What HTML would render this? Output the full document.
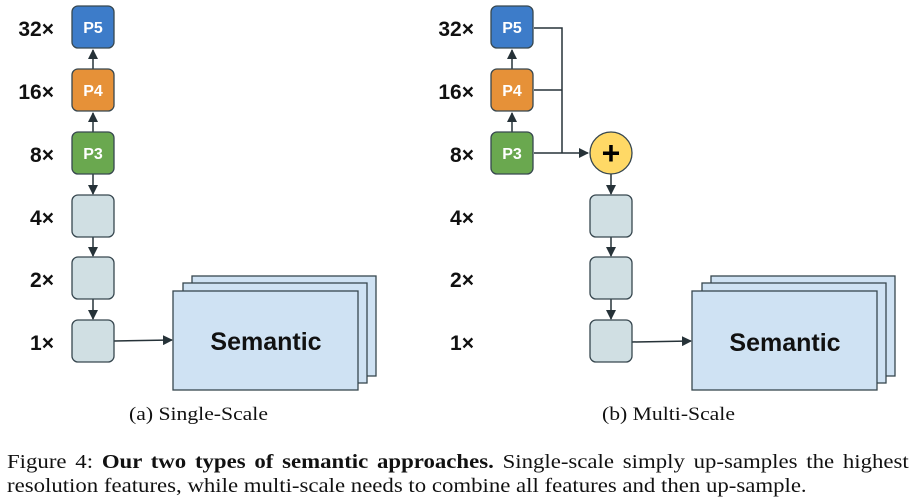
<!DOCTYPE html>
<html><head><meta charset="utf-8"><style>
body{margin:0;background:#fff;width:915px;height:502px;overflow:hidden;position:relative}
svg{position:absolute;left:0;top:0}
.cap{position:absolute;font-family:"Liberation Serif",serif;font-size:20px;color:#111;white-space:nowrap;transform-origin:0 0;transform:scaleX(1.14)}
</style></head><body>
<svg width="915" height="502" viewBox="0 0 915 502">
<defs><marker id="a" markerWidth="10" markerHeight="10" refX="9" refY="5" orient="auto" markerUnits="userSpaceOnUse"><path d="M0,0 L10,5 L0,10 z" fill="#263238"/></marker></defs>
<g font-family="Liberation Sans, sans-serif" font-weight="bold">
<g font-size="21" fill="#111" text-anchor="end">
<text x="54" y="36">32×</text><text x="54" y="99">16×</text><text x="54" y="162">8×</text>
<text x="54" y="225">4×</text><text x="54" y="287">2×</text><text x="54" y="350">1×</text>
<text x="474" y="36">32×</text><text x="474" y="99">16×</text><text x="474" y="162">8×</text>
<text x="474" y="225">4×</text><text x="474" y="287">2×</text><text x="474" y="350">1×</text>
</g>
<g stroke="#263238" stroke-width="1.5" fill="none">
<line x1="93" y1="69" x2="93" y2="50" marker-end="url(#a)"/>
<line x1="93" y1="132" x2="93" y2="113" marker-end="url(#a)"/>
<line x1="93" y1="174" x2="93" y2="194" marker-end="url(#a)"/>
<line x1="93" y1="237" x2="93" y2="256" marker-end="url(#a)"/>
<line x1="93" y1="299" x2="93" y2="319" marker-end="url(#a)"/>
<line x1="114" y1="341" x2="172" y2="340" marker-end="url(#a)"/>
<line x1="512" y1="69" x2="512" y2="50" marker-end="url(#a)"/>
<line x1="512" y1="132" x2="512" y2="113" marker-end="url(#a)"/>
<polyline points="534,28 562,28 562,153"/>
<line x1="534" y1="90" x2="562" y2="90"/>
<line x1="534" y1="153" x2="588" y2="153" marker-end="url(#a)"/>
<line x1="611" y1="174" x2="611" y2="194" marker-end="url(#a)"/>
<line x1="611" y1="237" x2="611" y2="256" marker-end="url(#a)"/>
<line x1="611" y1="299" x2="611" y2="319" marker-end="url(#a)"/>
<line x1="632" y1="342" x2="691" y2="341" marker-end="url(#a)"/>
</g>
<g stroke="#37474f" stroke-width="1.3">
<rect x="72" y="6" width="42" height="42" rx="6" fill="#3d7cc9"/>
<rect x="72" y="69" width="42" height="42" rx="6" fill="#e69138"/>
<rect x="72" y="132" width="42" height="42" rx="6" fill="#6aa84f"/>
<rect x="72" y="195" width="42" height="42" rx="6" fill="#d0dfe3"/>
<rect x="72" y="257" width="42" height="42" rx="6" fill="#d0dfe3"/>
<rect x="72" y="320" width="42" height="42" rx="6" fill="#d0dfe3"/>
<rect x="491" y="6" width="42" height="42" rx="6" fill="#3d7cc9"/>
<rect x="491" y="69" width="42" height="42" rx="6" fill="#e69138"/>
<rect x="491" y="132" width="42" height="42" rx="6" fill="#6aa84f"/>
<rect x="590" y="195" width="42" height="42" rx="6" fill="#d0dfe3"/>
<rect x="590" y="257" width="42" height="42" rx="6" fill="#d0dfe3"/>
<rect x="590" y="320" width="42" height="42" rx="6" fill="#d0dfe3"/>
<circle cx="611" cy="153" r="21" fill="#ffd966"/>
<rect x="192" y="276" width="184" height="100" fill="#cfe2f3"/>
<rect x="183" y="283" width="184" height="100" fill="#cfe2f3"/>
<rect x="173" y="291" width="185" height="99" fill="#cfe2f3"/>
<rect x="711" y="276" width="184" height="100" fill="#cfe2f3"/>
<rect x="702" y="283" width="184" height="100" fill="#cfe2f3"/>
<rect x="692" y="291" width="185" height="99" fill="#cfe2f3"/>
</g>
<g font-size="16" fill="#fff" text-anchor="middle">
<text x="93" y="33">P5</text><text x="93" y="96">P4</text><text x="93" y="159">P3</text>
<text x="512" y="33">P5</text><text x="512" y="96">P4</text><text x="512" y="159">P3</text>
</g>
<text x="611" y="164" font-size="32" text-anchor="middle" fill="#000">+</text>
<g font-size="25" fill="#111" text-anchor="middle">
<text x="266" y="350">Semantic</text><text x="785" y="351">Semantic</text>
</g>
</g>
</svg>
<div class="cap" style="left:129px;top:404px;font-size:19px">(a) Single-Scale</div>
<div class="cap" style="left:602px;top:404px;font-size:19px">(b) Multi-Scale</div>
<div class="cap" style="left:7px;top:451px;width:791px;text-align:justify;text-align-last:justify">Figure 4: <b>Our two types of semantic approaches.</b> Single-scale simply up-samples the highest</div>
<div class="cap" style="left:7px;top:475px">resolution features, while multi-scale needs to combine all features and then up-sample.</div>
</body></html>
